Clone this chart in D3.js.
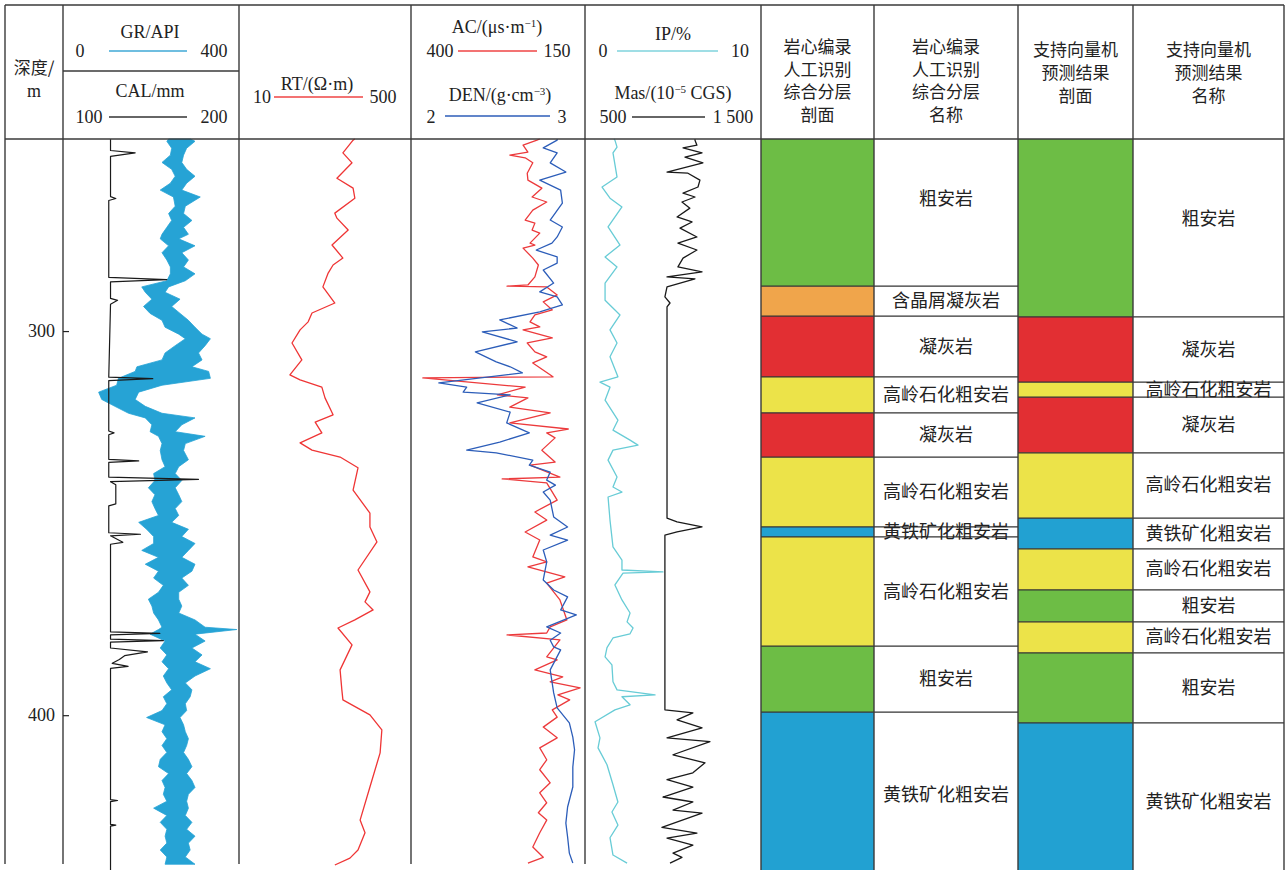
<!DOCTYPE html>
<html>
<head>
<meta charset="utf-8">
<script src="https://cdn.jsdelivr.net/npm/d3@7/dist/d3.min.js"></script>
<style>
body{margin:0;background:#fff;}
.serif{font-family:"Liberation Serif","DejaVu Serif",serif;font-size:18px;fill:#222;}
.cjk{font-family:"Noto Sans CJK SC","Noto Sans CJK TC",sans-serif;font-size:17px;fill:#222;}
</style>
</head>
<body>
<script>
//curve data (depth in m)
var grDepth = [250,250.6,252.4,254.2,256.1,257.9,259.7,261.5,263.3,265.1,267.5,269.4,271.2,273.0,274.8,276.0,277.8,279.6,281.5,283.3,285.1,286.9,288.5,289.9,291.7,293.6,295.4,297.2,299.0,300.8,302.0,303.8,305.7,307.5,309.3,310.5,312.3,314.1,315.9,317.8,319.6,321.4,322.6,324.4,326.2,327.4,329.3,331.1,333.5,335.3,337.1,338.9,340.8,342.6,344.4,346.2,348.0,349.8,351.6,353.5,355.3,357.1,358.9,360.7,362.5,364.3,366.2,368.0,369.8,371.6,373.4,375.2,377.1,377.7,378.9,380.7,382.5,384.3,386.1,387.9,389.8,391.6,393.4,395.2,397.0,398.8,400.6,402.5,404.3,406.1,407.9,409.7,411.5,413.4,415.2,417.0,418.8,420.6,422.4,424.2,426.1,427.9,429.7,431.5,433.3,435.1,436.9,438.8];
var grLow = [240,236,247,244,225,247,255,244,221,251,255,240,247,236,225,221,240,225,236,244,244,236,179,187,202,183,198,225,232,263,278,255,232,225,168,164,126,122,81,88,118,149,187,202,198,217,225,221,225,232,206,209,194,209,202,209,217,172,190,206,206,179,217,187,217,206,228,217,194,202,206,217,225,217,198,232,221,236,225,240,228,236,247,228,236,225,190,232,225,236,225,236,221,217,240,225,232,228,236,206,236,221,236,232,236,221,236,232];
var grHigh = [290,300,281,274,270,281,300,281,270,312,278,274,293,274,285,263,300,270,285,274,300,278,240,232,266,247,266,285,300,316,335,323,308,316,293,331,335,225,172,164,187,225,300,270,255,323,278,274,285,263,255,270,255,263,270,255,263,247,285,270,300,285,270,300,293,270,285,263,263,270,263,300,323,395,300,323,293,316,300,335,300,278,293,289,278,281,266,274,278,285,281,274,285,293,281,293,300,285,281,285,278,293,281,300,285,289,278,300];

var calDepth = [250,253,253.6,254.5,265,265.5,266,286,286.6,287.2,291.5,292,293,312,312.4,312.9,326,326.5,327,333.4,333.8,334.2,338.0,338.6,339.2,340,345,345.5,352.5,352.9,353.3,355,355.5,378.3,378.7,379.1,380.2,380.6,381,382.5,383.5,384.5,385.5,386.5,387.3,387.8,422,422.2,422.5,428.4,428.6,428.9,440.3];
var calValue = [127,127,141,127,127,130,126,126,159,127,127,131,127,126,151,126,126,129,126,126,143,126,126,177,127,130,130,126,126,144,127,134,127,127,155,127,127,157,127,127,148,135,132,128,137,127,127,131,127,127,130,127,127];

var rtDepth = [250,250.3,253.6,256.2,260.2,262.8,265.4,269.3,270.6,273.7,277.6,281.0,282.8,284.9,288.5,292.7,295.3,297.6,299.7,303.1,307.5,311.4,312.7,314.6,317.4,321.8,323.7,326.5,329.1,331.0,332.8,335.6,341.4,347.4,351.0,354.9,362.2,367.9,370.5,372.6,375.2,377.3,381.7,388.2,393.4,396.0,399.9,403.8,409.8,418.7,427.3,430.6,435.1,437.2,439.0];
var rtValue = [340,335,306,332,289,335,340,283,289,321,275,306,278,264,249,283,218,207,184,161,189,155,184,246,255,278,227,246,184,218,298,349,335,383,383,403,349,383,369,392,340,292,332,298,303,306,383,417,412,383,355,369,349,326,283];

var acDepth = [250,250.3,251.6,253.4,254.2,254.9,256.2,258.9,260.7,262.8,265.1,266.4,268.5,271.1,271.9,273.7,274.5,277.1,277.6,278.4,281.0,282.8,285.9,288.0,288.3,288.5,290.6,292.4,294.5,295.8,297.6,298.9,299.7,301.8,303.1,305.4,306.7,308.3,311.9,312.2,314.6,316.6,317.4,319.8,321.3,323.9,325.5,326.5,327.8,331.0,334.1,334.9,338.0,338.5,339.5,344.0,347.1,349.2,352.3,354.4,358.8,360.1,361.4,364.0,365.6,370.0,375.2,377.0,378.6,379.1,380.4,384.8,385.6,388.2,390.0,391.3,392.9,394.7,396.0,398.6,400.5,403.1,405.9,408.5,411.6,414.2,417.6,420.2,422.8,425.4,427.3,430.6,434.3,437.0,438.5];
var acValue = [215,219,239,232,258,236,225,233,232,212,226,205,225,236,222,226,215,229,222,239,225,217,222,232,262,205,190,210,197,222,229,215,239,197,233,222,205,225,196,383,236,276,232,258,200,258,174,205,193,212,193,229,186,269,205,190,222,205,236,215,225,205,232,179,205,186,176,200,205,262,186,205,190,222,182,200,157,189,172,197,190,210,190,215,205,215,200,215,205,217,205,215,225,210,232];

var denDepth = [250,250.3,252.3,253.6,256.2,258.6,260.7,263.3,266.7,271.1,272.9,275.5,277.1,278.9,280.7,282.3,284.1,287.5,289.8,291.1,293.2,295.0,297.1,299.2,300.2,302.8,305.4,308.0,309.3,310.9,313.5,314.6,315.9,316.6,318.7,321.1,323.9,326.5,328.9,331.0,331.7,333.6,334.9,336.7,338.8,340.1,341.9,344.0,348.4,351.0,353.1,354.4,357.0,360.1,364.8,367.4,369.2,372.6,373.9,377.0,378.6,380.5,382.2,383.0,388.2,394.2,398.1,402.0,405.7,409.0,413.5,418.7,423.9,428.1,431.7,435.9,438.5];
var denValue = [2.84,2.84,2.76,2.84,2.80,2.89,2.74,2.86,2.87,2.80,2.87,2.84,2.81,2.72,2.84,2.84,2.76,2.82,2.74,2.84,2.87,2.74,2.51,2.61,2.41,2.61,2.37,2.49,2.57,2.64,2.16,2.32,2.30,2.57,2.38,2.57,2.55,2.68,2.51,2.32,2.49,2.70,2.68,2.80,2.78,2.83,2.76,2.80,2.82,2.90,2.80,2.90,2.76,2.78,2.76,2.82,2.90,2.86,2.95,2.78,2.86,2.80,2.82,2.86,2.80,2.82,2.84,2.91,2.93,2.94,2.93,2.93,2.90,2.89,2.90,2.91,2.93];

var ipDepth = [250,250.3,252.1,253.6,259.9,262.5,265.4,267.7,272.9,277.6,280.7,283.3,287.5,292.0,295.8,299.7,303.1,306.7,311.9,313.3,314.6,318.0,323.2,325.8,328.4,329.7,331.0,333.6,338.0,340.6,341.9,343.2,349.2,356.2,359.6,362.2,362.7,363.0,366.1,370.0,373.4,375.7,377.3,378.8,379.9,382.4,384.8,386.9,391.3,393.4,394.7,395.2,397.3,398.6,401.7,405.9,408.5,412.9,418.1,422.6,425.2,428.6,431.9,436.4,438.5];
var ipValue = [1.65,1.70,1.82,1.59,1.82,0.97,1.42,2.10,1.31,1.99,1.14,1.82,1.14,1.14,1.99,1.42,1.82,1.42,1.87,0.85,1.42,1.14,1.87,1.59,2.56,3.01,1.59,1.31,1.82,1.59,2.10,1.31,1.42,1.59,2.10,2.10,4.43,2.16,1.70,2.10,2.56,2.39,2.73,2.56,1.59,1.25,1.14,1.53,1.59,1.82,3.98,2.10,2.56,1.70,0.57,0.85,0.74,1.25,1.59,1.87,1.53,1.87,1.42,1.59,2.39];

var masDepth = [250,250.3,251.6,252.3,253.6,254.7,256.2,258.6,258.9,260.7,262.5,264.1,265.1,266.4,268.0,270.3,271.6,273.2,275.5,277.1,278.9,281.0,283.3,284.6,285.9,286.4,288.5,291.1,292.7,293.7,348.7,349.7,351.0,352.3,353.1,398.6,399.4,401.2,403.3,405.9,406.9,410.3,412.4,415.0,416.8,418.7,421.3,422.6,424.7,425.5,429.2,430.7,432.0,433.8,435.9,437.0,438.5];
var masValue = [1125,1125,1136,1057,1165,1068,1170,966,1085,1153,1142,1057,1125,1051,1096,1023,1108,1040,1136,1028,1136,1057,1028,1165,966,1125,966,954,983,966,966,1023,1165,1023,954,954,1113,1023,1165,966,1210,1000,1182,1113,966,1113,943,1113,1000,1165,937,1136,966,1113,1000,1051,983];

//lithology layers (top depth of each layer, base of the last one)
var coreTops = [243.0,288.3,296.1,311.95,321.3,332.8,351.0,353.6,382.0,399.2];
var coreNames = ["粗安岩","含晶屑凝灰岩","凝灰岩","高岭石化粗安岩","凝灰岩","高岭石化粗安岩","黄铁矿化粗安岩","高岭石化粗安岩","粗安岩","黄铁矿化粗安岩"];
var coreBase = 442.4;
var svmTops = [245.3,296.3,313.3,317.2,331.7,348.7,356.7,367.4,375.7,383.8,402.0];
var svmNames = ["粗安岩","凝灰岩","高岭石化粗安岩","凝灰岩","高岭石化粗安岩","黄铁矿化粗安岩","高岭石化粗安岩","粗安岩","高岭石化粗安岩","粗安岩","黄铁矿化粗安岩"];
var svmBase = 443.2;
var rockTypes = ["粗安岩","含晶屑凝灰岩","凝灰岩","高岭石化粗安岩","黄铁矿化粗安岩"];
var depthTicks = [300, 400];

(function(){

    var width = 1285, height = 870;
    var headTop = 5, headBottom = 139, trackBottom = 864;
    var cols = [5, 63, 239, 411, 585, 761, 874, 1018, 1133, 1284];
    var gridColor = "#3a3a3a";

    var svg = d3.select("body").append("svg")
        .attr("width", width)
        .attr("height", height);

    //clip for the body of the log
    svg.append("clipPath").attr("id", "body-clip")
        .append("rect")
        .attr("x", 0).attr("y", headBottom)
        .attr("width", width).attr("height", height - headBottom);

    //depth scale
    var y = d3.scaleLinear().domain([250, 440.3]).range([headBottom, 870]);

    //track scales
    var grX = d3.scaleLinear().domain([0, 400]).range([cols[1], cols[2]]);
    var calX = d3.scaleLinear().domain([100, 200]).range([cols[1], cols[2]]);
    var rtX = d3.scaleLinear().domain([10, 500]).range([cols[2], cols[3]]);
    var acX = d3.scaleLinear().domain([400, 150]).range([cols[3], cols[4]]);
    var denX = d3.scaleLinear().domain([2, 3]).range([cols[3], cols[4]]);
    var ipX = d3.scaleLinear().domain([0, 10]).range([cols[4], cols[5]]);
    var masX = d3.scaleLinear().domain([500, 1500]).range([cols[4], cols[5]]);

    var rockColor = d3.scaleOrdinal()
        .domain(rockTypes)
        .range(["#6dbd45", "#f0a54b", "#e22f33", "#ece349", "#22a1d2"]);

    //lithology columns
    drawLitho(coreTops, coreNames, coreBase, cols[5], cols[6], cols[7]);
    drawLitho(svmTops, svmNames, svmBase, cols[7], cols[8], cols[9]);

    //GR band
    var grData = grDepth.map(function(d, i){ return [d, grLow[i], grHigh[i]]; });
    svg.append("path")
        .datum(grData)
        .attr("fill", "#26a3d5")
        .attr("stroke", "#26a3d5")
        .attr("stroke-width", 0.8)
        .attr("stroke-linejoin", "miter")
        .attr("d", d3.area()
            .y(function(d){ return y(d[0]); })
            .x0(function(d){ return grX(d[1]); })
            .x1(function(d){ return grX(d[2]); }));

    drawCurve(calDepth, calValue, calX, "#1a1a1a", 1.2);
    drawCurve(rtDepth, rtValue, rtX, "#ef3535", 1.3);
    drawCurve(acDepth, acValue, acX, "#ec3a3c", 1.3);
    drawCurve(denDepth, denValue, denX, "#2c5db9", 1.3);
    drawCurve(ipDepth, ipValue, ipX, "#68ccd6", 1.3);
    drawCurve(masDepth, masValue, masX, "#1a1a1a", 1.3);

    //grid lines
    var grid = svg.append("g").attr("stroke", gridColor).attr("stroke-width", 1.4);
    grid.append("line").attr("x1", cols[0]).attr("x2", cols[9]).attr("y1", headTop).attr("y2", headTop);
    grid.append("line").attr("x1", cols[0]).attr("x2", cols[9]).attr("y1", headBottom).attr("y2", headBottom);
    grid.append("line").attr("x1", cols[1]).attr("x2", cols[2]).attr("y1", 71).attr("y2", 71);
    cols.forEach(function(c, i){
        grid.append("line")
            .attr("x1", c).attr("x2", c)
            .attr("y1", headTop)
            .attr("y2", i <= 4 ? trackBottom : height);
    });

    //depth axis
    var depthAxis = d3.axisLeft(y).tickValues(depthTicks).tickSize(6).tickPadding(8);
    var ax = svg.append("g")
        .attr("transform", "translate(" + (cols[1] + 6) + ",0)")
        .call(depthAxis);
    ax.select(".domain").remove();
    ax.selectAll("line").attr("stroke", "#222").attr("stroke-width", 1.2);
    ax.selectAll("text")
        .attr("class", "serif")
        .attr("fill", "#222")
        .style("font-size", "18px");

    //header
    label("深度/", 34, 74, "cjk");
    label("m", 34, 97, "serif");

    label("GR/API", 150, 38, "serif");
    legend(109, 187, 51, "#3fa9d6", "0", 80, "400", 214, 57);
    label("CAL/mm", 150, 97, "serif");
    legend(109, 187, 117, "#333", "100", 89, "200", 214, 123);

    label("RT/(Ω·m)", 317, 90, "serif");
    legend(274, 363, 97, "#ef4545", "10", 262, "500", 383, 103);

    superLabel("AC/(μs·m", "−1", ")", 497, 33);
    legend(458, 537, 51, "#ef4545", "400", 440, "150", 557, 57);
    superLabel("DEN/(g·cm", "−3", ")", 500, 101);
    legend(445, 550, 116, "#2c5db9", "2", 431, "3", 562, 123);

    label("IP/%", 673, 40, "serif");
    legend(617, 718, 51, "#7fd3dc", "0", 603, "10", 740, 57);
    superLabel("Mas/(10", "−5", " CGS)", 673, 99);
    legend(632, 705, 117, "#333", "500", 613, "1 500", 733, 123);

    var c1 = (cols[5] + cols[6]) / 2, c2 = (cols[6] + cols[7]) / 2;
    var c3 = (cols[7] + cols[8]) / 2, c4 = (cols[8] + cols[9]) / 2;
    ["岩心编录", "人工识别", "综合分层", "剖面"].forEach(function(t, i){
        label(t, c1, 53 + i * 22.5, "cjk");
    });
    ["岩心编录", "人工识别", "综合分层", "名称"].forEach(function(t, i){
        label(t, c2, 53 + i * 22.5, "cjk");
    });
    ["支持向量机", "预测结果", "剖面"].forEach(function(t, i){
        label(t, c3, 56 + i * 23, "cjk");
    });
    ["支持向量机", "预测结果", "名称"].forEach(function(t, i){
        label(t, c4, 56 + i * 23, "cjk");
    });

    function drawCurve(depths, values, xScale, color, w){
        var data = depths.map(function(d, i){ return [d, values[i]]; });
        svg.append("path")
            .datum(data)
            .attr("fill", "none")
            .attr("stroke", color)
            .attr("stroke-width", w)
            .attr("stroke-linejoin", "round")
            .attr("d", d3.line()
                .x(function(d){ return xScale(d[1]); })
                .y(function(d){ return y(d[0]); }));
    }

    function drawLitho(tops, names, base, xColor, xName, xRight){
        var layers = tops.map(function(t, i){
            return {top: t, bottom: i < tops.length - 1 ? tops[i + 1] : base, name: names[i]};
        });
        var g = svg.append("g").attr("clip-path", "url(#body-clip)");
        g.selectAll("rect")
            .data(layers)
            .enter()
            .append("rect")
            .attr("x", xColor)
            .attr("width", xName - xColor)
            .attr("y", function(d){ return y(d.top); })
            .attr("height", function(d){ return y(d.bottom) - y(d.top); })
            .attr("fill", function(d){ return rockColor(d.name); });
        g.selectAll("line")
            .data(layers.slice(1))
            .enter()
            .append("line")
            .attr("x1", xColor).attr("x2", xRight)
            .attr("y1", function(d){ return y(d.top); })
            .attr("y2", function(d){ return y(d.top); })
            .attr("stroke", "#333")
            .attr("stroke-width", 1.2);
        g.selectAll("text")
            .data(layers)
            .enter()
            .append("text")
            .attr("class", "cjk")
            .style("font-size", "18px")
            .attr("text-anchor", "middle")
            .attr("x", (xName + xRight) / 2)
            .attr("y", function(d){ return (y(d.top) + y(d.bottom)) / 2 + 6; })
            .text(function(d){ return d.name; });
    }

    function label(txt, x, yy, cls){
        return svg.append("text")
            .attr("class", cls)
            .attr("text-anchor", "middle")
            .attr("x", x).attr("y", yy)
            .text(txt);
    }

    function superLabel(a, sup, b, x, yy){
        var t = svg.append("text")
            .attr("class", "serif")
            .attr("text-anchor", "middle")
            .attr("x", x).attr("y", yy);
        t.append("tspan").text(a);
        t.append("tspan").attr("baseline-shift", "super").style("font-size", "11px").text(sup);
        t.append("tspan").text(b);
    }

    function legend(x1, x2, ly, color, lt, lx, rt, rx, ty){
        svg.append("line")
            .attr("x1", x1).attr("x2", x2)
            .attr("y1", ly).attr("y2", ly)
            .attr("stroke", color).attr("stroke-width", 1.3);
        label(lt, lx, ty, "serif");
        label(rt, rx, ty, "serif");
    }
})();
</script>
</body>
</html>
